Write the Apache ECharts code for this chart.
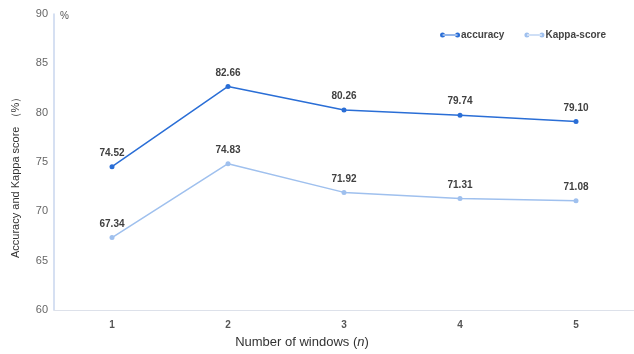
<!DOCTYPE html>
<html>
<head>
<meta charset="utf-8">
<script src="https://cdn.jsdelivr.net/npm/echarts@6/dist/echarts.min.js"></script>
<style>
  html, body { margin: 0; padding: 0; background: #fff; }
  #chart { width: 634px; height: 354px; }
</style>
</head>
<body>
<div id="chart"></div>
<script>
// Accuracy and Kappa score by number of windows
const windows = ['1', '2', '3', '4', '5'];
const accuracy = [74.52, 82.66, 80.26, 79.74, 79.10];
const kappaScore = [67.34, 74.83, 71.92, 71.31, 71.08];

// legend glyph: a short line with a dot at each end
const legendIcon = 'path://M0,3a3,3 0 1,0 6,0a3,3 0 1,0 -6,0Z M18,3a3,3 0 1,0 6,0a3,3 0 1,0 -6,0Z M3,2.4H21V3.6H3Z';

const font = 'Arial, "Liberation Sans", Helvetica, sans-serif';

const chart = echarts.init(document.getElementById('chart'));

const labelStyle = {
  show: true,
  position: 'top',
  distance: 6,
  fontSize: 10,
  fontWeight: 'bold',
  color: '#404040',
  fontFamily: font,
  formatter: p => p.value.toFixed(2)
};

chart.setOption({
  animation: false,
  textStyle: { fontFamily: font },
  grid: { left: 54, right: 0, top: 14, bottom: 42 },
  legend: {
    right: 23,
    top: 25,
    itemWidth: 20,
    itemHeight: 6,
    itemGap: 20,
    textStyle: { fontSize: 10, fontWeight: 'bold', color: '#444', padding: [0, 0, 0, -4] },
    data: [
      { name: 'accuracy', icon: legendIcon },
      { name: 'Kappa-score', icon: legendIcon }
    ]
  },
  xAxis: {
    type: 'category',
    data: windows,
    boundaryGap: true,
    name: '{t|Number of windows (}{i|n}{t|)}',
    nameLocation: 'middle',
    nameGap: 26,
    nameTextStyle: {
      padding: [0, 84, 0, 0],
      rich: {
        t: { fontSize: 13, color: '#333', fontFamily: font },
        i: { fontSize: 13, color: '#333', fontStyle: 'italic', fontFamily: font }
      }
    },
    axisLine: { lineStyle: { color: '#dde1ea', width: 1 } },
    axisTick: { show: false },
    axisLabel: { fontSize: 10, color: '#555', margin: 10, fontWeight: 'bold' }
  },
  yAxis: {
    type: 'value',
    min: 60,
    max: 90,
    interval: 5,
    name: '%',
    nameLocation: 'end',
    nameGap: -2,
    nameTextStyle: {
      fontSize: 10,
      color: '#555',
      align: 'left',
      verticalAlign: 'middle',
      padding: [0, 0, 0, 6]
    },
    axisLine: { show: true, lineStyle: { color: '#c9d6ee', width: 1.5 } },
    axisTick: { show: false },
    splitLine: { show: false },
    axisLabel: { fontSize: 11, color: '#666', margin: 6 }
  },
  graphic: [{
    type: 'text',
    rotation: Math.PI / 2,
    x: 10,
    y: 258,
    style: {
      text: 'Accuracy and Kappa score （%）',
      fontSize: 11,
      fill: '#333',
      fontFamily: font
    }
  }],
  series: [
    {
      name: 'accuracy',
      type: 'line',
      data: accuracy,
      symbol: 'circle',
      symbolSize: 5,
      lineStyle: { color: '#2a6ed6', width: 1.5 },
      itemStyle: { color: '#2a6ed6' },
      label: labelStyle
    },
    {
      name: 'Kappa-score',
      type: 'line',
      data: kappaScore,
      symbol: 'circle',
      symbolSize: 5,
      lineStyle: { color: '#9fc0ee', width: 1.5 },
      itemStyle: { color: '#9fc0ee' },
      label: labelStyle
    }
  ]
});
</script>
</body>
</html>
